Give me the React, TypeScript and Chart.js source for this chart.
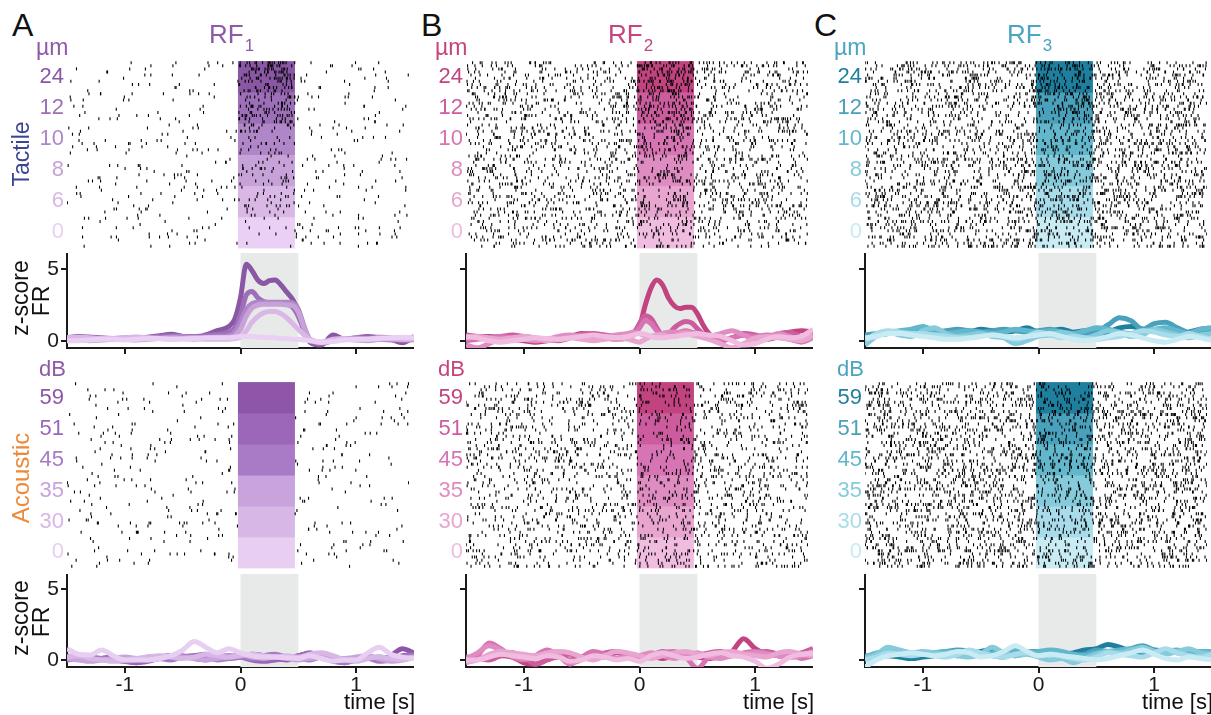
import React, { useEffect, useRef } from 'react';
import { Chart, registerables } from 'chart.js';

Chart.register(...registerables);

// ---------- data ----------
const TIME = [-1.5, -1.4, -1.3, -1.2, -1.1, -1.0, -0.9, -0.8, -0.7, -0.6, -0.5, -0.4, -0.3, -0.2, -0.1, 0, 0.1, 0.2, 0.3, 0.4, 0.5, 0.6, 0.7, 0.8, 0.9, 1.0, 1.1, 1.2, 1.3, 1.4, 1.5];
const TIME_FINE = [-1.5, -1.4, -1.3, -1.2, -1.1, -1.0, -0.9, -0.8, -0.7, -0.6, -0.5, -0.4, -0.3, -0.2, -0.1, -0.05, 0, 0.05, 0.1, 0.15, 0.2, 0.25, 0.3, 0.35, 0.4, 0.45, 0.5, 0.55, 0.6, 0.7, 0.8, 0.9, 1.0, 1.1, 1.2, 1.3, 1.4, 1.5];

const TACTILE_LEVELS = ['0', '6', '8', '10', '12', '24'];
const ACOUSTIC_LEVELS = ['0', '30', '35', '45', '51', '59'];
const X_TICKS = [-1, 0, 1];
const Y_TICKS = [0, 5];
const STIM_ON = 0;
const STIM_OFF = 0.5;
const TRIALS = 10;

// z-scored firing rate, one row per level (lowest level first)
const RF1_TACTILE_Z = [
  [0.0, 0.0, 0.05, 0.1, 0.1, 0.05, 0.1, 0.15, 0.15, 0.1, 0.1, 0.15, 0.2, 0.2, 0.2, 0.25, 0.3, 0.3, 0.3, 0.25, 0.25, 0.2, 0.2, 0.15, 0.15, 0.1, 0.1, 0.05, 0.0, -0.1, -0.05, 0.05, 0.1, 0.1, 0.15, 0.2, 0.25, 0.2],
  [0.2, 0.25, 0.2, 0.15, 0.15, 0.2, 0.25, 0.2, 0.15, 0.1, 0.15, 0.2, 0.1, 0.1, 0.1, 0.15, 0.25, 0.7, 1.3, 1.7, 1.95, 2.05, 2.05, 1.9, 1.6, 1.2, 0.8, 0.4, 0.1, -0.1, 0.1, 0.15, 0.1, 0.1, 0.2, 0.15, 0.1, 0.2],
  [0.1, 0.05, 0.0, 0.05, 0.1, 0.1, 0.05, 0.1, 0.15, 0.2, 0.15, 0.1, 0.15, 0.2, 0.25, 0.35, 0.8, 1.7, 2.3, 2.5, 2.55, 2.55, 2.55, 2.55, 2.5, 2.45, 2.0, 0.9, 0.1, -0.1, 0.0, 0.1, 0.05, 0.0, 0.1, 0.15, 0.1, 0.05],
  [0.15, 0.2, 0.15, 0.1, 0.15, 0.2, 0.25, 0.2, 0.2, 0.25, 0.3, 0.2, 0.25, 0.3, 0.35, 0.6, 1.3, 2.2, 2.6, 2.7, 2.7, 2.7, 2.7, 2.7, 2.7, 2.65, 2.2, 1.0, 0.1, -0.15, 0.05, 0.1, 0.2, 0.15, 0.1, 0.05, 0.1, 0.2],
  [0.2, 0.2, 0.25, 0.2, 0.15, 0.1, 0.15, 0.2, 0.3, 0.35, 0.3, 0.3, 0.35, 0.45, 0.6, 0.9, 1.8, 3.2, 3.45, 3.0, 2.75, 2.65, 2.6, 2.6, 2.55, 2.35, 1.7, 0.7, 0.0, -0.2, 0.0, 0.15, 0.1, 0.2, 0.25, 0.2, 0.0, 0.1],
  [0.2, 0.3, 0.25, 0.15, 0.1, 0.15, 0.2, 0.25, 0.35, 0.45, 0.3, 0.2, 0.4, 0.7, 1.0, 1.5, 3.0, 5.35, 4.9, 4.25, 4.0, 4.2, 4.25, 3.9, 3.4, 2.9, 2.1, 0.8, -0.1, -0.3, 0.4, 0.1, 0.2, 0.3, 0.2, 0.1, -0.15, 0.3],
];
const RF1_ACOUSTIC_Z = [
  [0.8, 0.4, 0.35, 0.7, 0.3, 0.0, 0.0, 0.0, 0.1, 0.3, 0.7, 1.3, 0.9, 0.5, 0.8, 0.5, 0.3, 0.2, 0.2, 0.15, 0.1, 0.3, 0.1, -0.1, 0.0, 0.0, 0.5, 0.9, 0.4, 0.2, 0.1],
  [0.2, 0.3, 0.1, 0.0, -0.1, 0.0, 0.1, 0.2, 0.3, 0.2, 0.1, 0.2, 0.4, 0.3, 0.2, 0.3, 0.4, 0.3, 0.2, 0.3, 0.2, 0.4, 0.5, 0.3, 0.0, -0.1, 0.1, 0.2, 0.1, 0.0, 0.2],
  [0.1, 0.0, -0.1, 0.0, 0.1, 0.2, 0.1, 0.0, 0.1, 0.3, 0.2, 0.1, 0.0, 0.1, 0.2, 0.4, 0.2, 0.1, 0.2, 0.1, 0.0, 0.1, 0.2, 0.1, 0.1, 0.2, 0.3, 0.1, -0.1, 0.0, 0.2],
  [0.0, 0.1, 0.2, 0.1, 0.0, -0.1, 0.0, 0.2, 0.1, 0.0, 0.2, 0.3, 0.2, 0.0, 0.1, 0.2, 0.1, 0.3, 0.4, 0.2, 0.1, 0.0, 0.2, 0.1, -0.2, 0.0, 0.1, -0.1, 0.0, 0.2, 0.3],
  [0.2, 0.1, 0.0, 0.1, 0.2, 0.0, -0.2, -0.1, 0.1, 0.2, 0.3, 0.1, 0.0, 0.2, 0.3, 0.2, 0.0, -0.1, 0.0, 0.1, 0.3, 0.5, 0.2, -0.1, -0.2, 0.0, 0.1, 0.2, 0.1, 0.3, 0.4],
  [0.3, 0.1, 0.0, 0.1, 0.2, -0.1, -0.2, 0.0, 0.2, 0.3, 0.2, 0.3, 0.4, 0.2, 0.1, 0.2, 0.4, 0.3, 0.1, 0.0, 0.3, 0.4, 0.2, 0.0, -0.1, 0.1, 0.3, 0.0, 0.3, 0.8, 0.5],
];
const RF2_TACTILE_Z = [
  [0.3, 0.2, 0.0, -0.1, 0.0, 0.1, 0.2, 0.15, 0.1, 0.2, 0.3, 0.4, 0.3, 0.2, 0.3, 0.4, 0.5, 0.45, 0.3, 0.2, 0.2, 0.25, 0.3, 0.35, 0.4, 0.45, 0.5, 0.45, 0.4, 0.3, 0.0, -0.3, -0.2, 0.1, 0.3, 0.2, 0.3, 0.8],
  [0.2, 0.3, 0.2, 0.1, 0.2, 0.3, 0.2, 0.0, 0.1, 0.2, 0.1, 0.0, 0.1, 0.2, 0.1, 0.0, -0.1, 0.1, 0.3, 0.4, 0.4, 0.3, 0.3, 0.4, 0.5, 0.4, 0.3, 0.2, 0.1, -0.2, -0.5, -0.2, 0.2, 0.3, 0.2, 0.1, 0.0, 0.4],
  [-0.3, -0.5, -0.2, 0.1, 0.2, 0.1, 0.0, 0.1, 0.3, 0.4, 0.3, 0.2, 0.3, 0.4, 0.5, 0.6, 0.5, 0.4, 0.3, 0.4, 0.5, 0.6, 0.6, 0.6, 0.6, 0.55, 0.5, 0.4, 0.3, 0.5, 0.7, 0.4, 0.1, 0.2, 0.5, 0.3, 0.1, 0.2],
  [0.0, 0.1, 0.2, 0.3, 0.2, 0.1, 0.0, 0.1, 0.2, 0.3, 0.4, 0.3, 0.2, 0.1, 0.2, 0.4, 0.9, 1.4, 1.2, 0.7, 0.35, 0.3, 0.45, 0.6, 0.7, 0.6, 0.5, 0.3, 0.2, 0.1, 0.2, 0.4, 0.3, 0.4, 0.3, 0.1, -0.1, 0.2],
  [0.4, 0.3, 0.2, 0.3, 0.4, 0.3, 0.2, 0.1, 0.0, 0.2, 0.4, 0.5, 0.4, 0.3, 0.2, 0.5, 1.2, 1.75, 1.55, 0.9, 0.35, 0.45, 0.9, 1.2, 1.35, 1.25, 0.85, 0.45, 0.2, 0.0, 0.2, 0.5, 0.4, 0.2, 0.5, 0.6, 0.3, 0.4],
  [0.2, 0.3, 0.3, 0.2, 0.1, 0.0, -0.1, 0.0, 0.1, 0.3, 0.5, 0.4, 0.2, 0.2, 0.3, 0.6, 1.0, 2.5, 3.7, 4.25, 3.9, 3.0, 2.45, 2.25, 2.35, 2.35, 1.9, 1.1, 0.5, 0.0, 0.2, 0.4, 0.3, 0.1, 0.3, 0.6, 0.7, 0.6],
];
const RF2_ACOUSTIC_Z = [
  [0.0, 0.0, 0.2, 0.4, 0.3, 0.2, 0.1, 0.3, 0.2, -0.1, 0.0, 0.3, 0.2, 0.0, 0.1, -0.1, 0.3, 0.5, 0.3, 0.1, 0.2, 0.4, 0.5, 0.3, 0.2, -0.1, -0.6, -0.3, 0.2, 0.4, 0.5],
  [-0.2, 0.0, 0.4, 0.6, 0.5, 0.4, 0.3, 0.5, 0.6, 0.5, 0.2, 0.0, 0.3, 0.6, 0.5, 0.3, 0.1, 0.3, 0.5, 0.6, 0.4, 0.3, 0.5, 0.6, 0.4, 0.3, 0.2, 0.5, 0.6, 0.4, 0.3],
  [0.1, 0.5, 1.0, 0.7, 0.3, 0.1, 0.2, 0.4, 0.3, -0.2, 0.0, 0.3, 0.2, 0.1, 0.2, 0.3, 0.5, 0.3, 0.1, 0.3, 0.5, 0.2, 0.1, 0.3, 0.4, 0.5, 0.4, 0.3, 0.2, 0.3, 0.6],
  [0.0, 0.3, 1.2, 0.8, 0.2, 0.0, 0.3, 0.7, 0.3, -0.3, 0.2, 0.6, 0.4, 0.1, 0.3, 0.0, 0.3, 0.5, 0.6, 0.2, -0.6, 0.2, 0.4, 0.3, 0.5, 0.6, 0.5, 0.3, 0.4, 0.1, 0.3],
  [0.2, 0.1, 0.0, 0.3, 0.5, 0.2, -0.3, 0.0, 0.3, 0.4, 0.2, 0.3, 0.5, 0.6, 0.3, 0.1, 0.3, 0.6, 0.4, 0.2, 0.3, 0.5, 0.6, 0.4, 0.3, 0.5, 0.6, 0.4, 0.3, 0.5, 0.8],
  [0.0, 0.1, 0.2, 0.3, 0.2, -0.2, -0.3, 0.0, 0.2, 0.0, 0.1, 0.3, 0.2, 0.5, 0.3, 0.2, 0.3, 0.1, 0.3, 0.5, 0.2, 0.1, 0.3, 0.6, 1.5, 0.8, 0.4, 0.3, 0.2, 0.3, 0.7],
];
const RF3_TACTILE_Z = [
  [0.2, 0.3, 0.5, 0.5, 0.4, 0.3, 0.2, 0.1, 0.1, 0.2, 0.3, 0.4, 0.3, 0.2, 0.3, 0.4, 0.5, 0.3, 0.1, 0.0, 0.1, 0.3, 0.5, 0.4, 0.2, 0.0, -0.1, 0.1, 0.3, 0.2, 0.0],
  [0.0, 0.5, 0.7, 0.6, 0.5, 0.5, 0.4, 0.3, 0.2, 0.2, 0.3, 0.4, 0.3, 0.1, 0.3, 0.6, 0.4, 0.2, 0.3, 0.2, 0.1, 0.2, 0.3, 0.5, 0.7, 0.6, 0.4, 0.3, 0.5, 0.3, 0.1],
  [-0.3, 0.3, 0.6, 0.4, 0.3, 0.7, 0.9, 0.5, 0.3, 0.4, 0.5, 0.3, 0.2, -0.2, 0.0, 0.3, 0.4, 0.6, 0.4, 0.2, 0.4, 0.7, 0.6, 0.3, 0.4, 0.8, 0.6, 0.4, 0.2, 0.4, 0.5],
  [0.2, 0.4, 0.6, 0.7, 0.8, 1.0, 0.7, 0.5, 0.6, 0.7, 0.6, 0.5, 0.6, 0.8, 0.7, 0.6, 0.7, 0.6, 0.5, 0.7, 0.9, 0.8, 0.6, 0.5, 0.7, 0.8, 0.9, 0.7, 0.5, 0.8, 0.9],
  [0.4, 0.5, 0.6, 0.5, 0.6, 0.7, 0.6, 0.7, 0.8, 0.7, 0.6, 0.7, 0.8, 0.7, 0.6, 0.7, 0.8, 0.6, 0.5, 0.4, 0.6, 1.1, 1.6, 1.4, 0.8, 1.2, 1.3, 0.9, 0.6, 0.7, 0.7],
  [0.3, 0.4, 0.5, 0.6, 0.5, 0.6, 0.7, 0.6, 0.5, 0.6, 0.8, 0.7, 0.6, 0.7, 0.9, 0.6, 0.7, 0.8, 0.6, 0.7, 0.5, 0.6, 0.9, 1.0, 0.8, 0.7, 0.6, 0.5, 0.6, 0.8, 0.9],
];
const RF3_ACOUSTIC_Z = [
  [-0.5, 0.0, 0.3, 0.4, 0.5, 0.4, 0.3, 0.4, 0.6, 0.5, 0.2, 0.3, 0.6, 1.0, 0.6, 0.3, 0.4, 0.3, 0.2, 0.1, 0.0, 0.1, 0.3, 0.5, 0.7, 0.4, 0.1, 0.0, 0.2, 0.1, 0.0],
  [0.0, 0.2, 0.5, 0.4, 0.3, 0.4, 0.3, 0.2, 0.4, 0.7, 0.5, 0.3, 0.2, 0.4, 0.5, 0.3, 0.4, 0.3, 0.1, 0.0, 0.2, 0.5, 0.4, 0.3, 0.2, 0.5, 0.8, 0.5, 0.3, 0.2, 0.4],
  [0.1, 0.4, 0.9, 0.7, 0.5, 0.6, 0.5, 0.4, 0.3, 0.2, 0.4, 0.9, 0.5, 0.3, 0.4, 0.2, 0.0, 0.1, -0.2, 0.1, 0.4, 0.6, 0.5, 0.7, 0.9, 0.6, 0.4, 0.6, 0.8, 0.5, 0.4],
  [0.2, 0.5, 0.6, 0.4, 0.3, 0.4, 0.5, 0.6, 0.5, 0.4, 0.3, 0.5, 0.6, 0.7, 0.5, 0.6, 0.7, 0.6, 0.4, 0.3, 0.5, 0.6, 0.7, 0.8, 0.6, 0.5, 0.6, 0.7, 0.5, 0.6, 0.6],
  [0.3, 0.2, 0.4, 0.6, 0.5, 0.4, 0.5, 0.6, 0.7, 0.6, 0.4, 0.3, 0.2, 0.5, 0.6, 0.5, 0.4, 0.5, 0.3, 0.4, 0.7, 0.6, 0.5, 0.8, 1.0, 0.7, 0.5, 0.6, 0.7, 0.5, 0.4],
  [0.1, 0.2, 0.3, 0.2, 0.1, 0.2, 0.3, 0.4, 0.3, 0.4, 0.6, 0.7, 0.4, 0.3, 0.5, 0.6, 0.5, 0.4, 0.5, 0.7, 0.8, 1.1, 0.9, 0.6, 0.5, 0.7, 0.6, 0.5, 0.4, 0.6, 0.5],
];

// spike rates (Hz) per level, outside / during stimulus (raster texture)
const RF1_TACTILE_BASE_HZ = [3, 3, 3, 3, 3, 3];
const RF1_TACTILE_STIM_HZ = [3, 6, 9, 14, 18, 28];
const RF1_ACOUSTIC_BASE_HZ = [2.5, 2.5, 2.5, 2.5, 2.5, 2.5];
const RF1_ACOUSTIC_STIM_HZ = [0, 0, 0, 0, 0, 0];
const RF2_TACTILE_BASE_HZ = [13, 13, 13, 13, 13, 13];
const RF2_TACTILE_STIM_HZ = [13, 14, 16, 18, 24, 34];
const RF2_ACOUSTIC_BASE_HZ = [11, 11, 11, 11, 11, 11];
const RF2_ACOUSTIC_STIM_HZ = [11, 11, 11, 11, 12, 13];
const RF3_TACTILE_BASE_HZ = [18, 18, 18, 18, 18, 18];
const RF3_TACTILE_STIM_HZ = [18, 18, 18, 18, 19, 19];
const RF3_ACOUSTIC_BASE_HZ = [18, 18, 18, 18, 18, 18];
const RF3_ACOUSTIC_STIM_HZ = [18, 18, 18, 18, 18, 19];

// ---------- styles ----------
const FONT = '"Liberation Sans", Arial, Helvetica, sans-serif';
const RF1_TACTILE_COLORS = ['#ead0f4', '#d9b8e6', '#c7a2d9', '#af87c9', '#9d6fb8', '#8a57a5'];
const RF1_ACOUSTIC_COLORS = ['#e8cff2', '#d6b7e6', '#c8a3dc', '#a97ac6', '#9c66b9', '#8e55a9'];
const RF2_COLORS = ['#f0bde0', '#e8a5d0', '#df8cc2', '#d774b3', '#cd5c9f', '#c1437f'];
const RF3_COLORS = ['#c8ebf4', '#a8dcea', '#86cbdc', '#63b7cd', '#4aa1bb', '#1f7f9e'];
const TITLE_COLORS = ['#8f5aa9', '#c5467f', '#4ba4c1'];
const GRAY = '#e8eaea';
const AXIS_COLOR = '#1a1a1a';

const COLS = [67, 466, 865];
const PLOT_W = 347;
const AXIS_W = 60;
const RT_TOP = 56, RT_H = 197;
const ZT_TOP = 253, ZT_H = 95, ZT_XH = 8, ZT_MIN = -0.51, ZT_MAX = 6.14;
const RA_TOP = 377, RA_H = 196;
const ZA_TOP = 574, ZA_H = 93, ZA_XH = 40, ZA_MIN = -0.5, ZA_MAX = 6.08;

// ---------- helpers ----------
function spikeTexture(base: number[], stim: number[], seed: number) {
  let s = seed >>> 0;
  const next = () => {
    s = (s + 0x6d2b79f5) >>> 0;
    let t = s;
    t = Math.imul(t ^ (t >>> 15), t | 1);
    t ^= t + Math.imul(t ^ (t >>> 7), t | 61);
    return ((t ^ (t >>> 14)) >>> 0) / 4294967296;
  };
  const pts: { x: number; y: number }[] = [];
  const dt = 0.004;
  for (let lv = 0; lv < base.length; lv++) {
    for (let tr = 0; tr < TRIALS; tr++) {
      const y = lv * TRIALS + tr + 0.5;
      for (let k = 0; k < 750; k++) {
        const t = -1.5 + k * dt;
        const r = t >= STIM_ON && t < STIM_OFF ? stim[lv] : base[lv];
        if (next() < r * dt) pts.push({ x: t + next() * dt, y });
      }
    }
  }
  return pts;
}

const bandsPlugin = (colors: string[]) => ({
  id: 'levelBands',
  beforeDatasetsDraw(chart: any) {
    const { ctx, scales } = chart;
    const x0 = scales.x.getPixelForValue(STIM_ON);
    const x1 = scales.x.getPixelForValue(STIM_OFF);
    ctx.save();
    colors.forEach((c, i) => {
      const yTop = scales.y.getPixelForValue((i + 1) * TRIALS);
      const yBot = scales.y.getPixelForValue(i * TRIALS);
      ctx.fillStyle = c;
      ctx.fillRect(x0, yTop, x1 - x0, yBot - yTop + 0.5);
    });
    ctx.restore();
  },
});

const stimPlugin = {
  id: 'stimGray',
  beforeDatasetsDraw(chart: any) {
    const { ctx, scales, chartArea } = chart;
    const x0 = scales.x.getPixelForValue(STIM_ON);
    const x1 = scales.x.getPixelForValue(STIM_OFF);
    ctx.save();
    ctx.fillStyle = GRAY;
    ctx.fillRect(x0, chartArea.top, x1 - x0, chartArea.bottom - chartArea.top);
    ctx.restore();
  },
};

const axisGrid = { display: true, drawOnChartArea: false, drawTicks: true, tickLength: 6, color: AXIS_COLOR, lineWidth: 2 };
const axisBorder = { display: true, color: AXIS_COLOR, width: 2 };

function rasterConfig(spikes: any[], levels: string[], colors: string[], labelColors: string[]) {
  return {
    type: 'scatter',
    data: {
      datasets: [{
        data: spikes,
        showLine: false,
        pointStyle: 'line',
        pointRotation: 90,
        pointRadius: 1.5,
        pointBorderWidth: 1.1,
        pointBorderColor: '#000',
        pointBackgroundColor: '#000',
      }],
    },
    options: {
      animation: false,
      responsive: false,
      devicePixelRatio: 1,
      events: [],
      layout: { padding: 0 },
      plugins: { legend: { display: false }, tooltip: { enabled: false } },
      scales: {
        x: { type: 'linear', min: -1.5, max: 1.5, display: false },
        y: {
          type: 'linear', min: 0, max: levels.length * TRIALS,
          afterBuildTicks: (sc: any) => { sc.ticks = levels.map((_, i) => ({ value: i * TRIALS + TRIALS / 2 })); },
          afterFit: (sc: any) => { sc.width = AXIS_W; sc.paddingTop = 0; sc.paddingBottom = 0; },
          grid: { display: false, drawTicks: false },
          border: { display: false },
          ticks: {
            autoSkip: false,
            padding: 3,
            color: (c: any) => labelColors[c.index],
            font: { family: FONT, size: 22 },
            callback: (_v: any, i: number) => levels[i],
          },
        },
      },
    },
    plugins: [bandsPlugin(colors)],
  };
}

function zConfig(times: number[], series: number[][], colors: string[], yMin: number, yMax: number, xLabels: boolean, yLabels: boolean, xh: number) {
  return {
    type: 'line',
    data: {
      datasets: series.map((vals, i) => ({
        data: vals.map((v, k) => ({ x: times[k], y: v })),
        borderColor: colors[i],
        borderWidth: 5,
        pointRadius: 0,
        cubicInterpolationMode: 'monotone',
        fill: false,
        order: i,
      })),
    },
    options: {
      animation: false,
      responsive: false,
      devicePixelRatio: 1,
      events: [],
      layout: { padding: 0 },
      plugins: { legend: { display: false }, tooltip: { enabled: false } },
      scales: {
        x: {
          type: 'linear', min: -1.5, max: 1.5,
          afterBuildTicks: (sc: any) => { sc.ticks = X_TICKS.map((v) => ({ value: v })); },
          afterFit: (sc: any) => { sc.height = xh; sc.paddingLeft = 0; sc.paddingRight = 0; },
          grid: axisGrid,
          border: axisBorder,
          ticks: { display: xLabels, autoSkip: false, maxRotation: 0, padding: 0, color: '#1a1a1a', font: { family: FONT, size: 21 }, callback: (v: any) => String(v) },
        },
        y: {
          type: 'linear', min: yMin, max: yMax,
          afterBuildTicks: (sc: any) => { sc.ticks = Y_TICKS.map((v) => ({ value: v })); },
          afterFit: (sc: any) => { sc.width = AXIS_W; sc.paddingTop = 0; sc.paddingBottom = 0; },
          grid: axisGrid,
          border: axisBorder,
          ticks: { display: yLabels, padding: 2, color: '#1a1a1a', font: { family: FONT, size: 21 }, callback: (v: any) => String(v) },
        },
      },
    },
    plugins: [stimPlugin],
  };
}

function ChartBox({ left, top, width, height, make }: { left: number; top: number; width: number; height: number; make: () => any }) {
  const ref = useRef<HTMLCanvasElement | null>(null);
  useEffect(() => {
    if (!ref.current) return;
    const chart = new Chart(ref.current, make());
    return () => chart.destroy();
  }, []);
  return <canvas ref={ref} width={width} height={height} style={{ position: 'absolute', left, top, width, height }} />;
}

function Txt({ children, left, baseline, size, color, right }: any) {
  const style: any = {
    position: 'absolute', top: baseline - 0.8465 * size, fontSize: size, lineHeight: 1,
    color, fontFamily: FONT, whiteSpace: 'nowrap',
  };
  if (right !== undefined) style.right = right; else style.left = left;
  return <div style={style}>{children}</div>;
}

function VTxt({ children, cx, cy, size, color }: any) {
  return (
    <div style={{
      position: 'absolute', left: cx, top: cy, fontSize: size, lineHeight: 1, color, fontFamily: FONT,
      whiteSpace: 'nowrap', transform: 'translate(-50%, -50%) rotate(-90deg)',
    }}>{children}</div>
  );
}

const COLUMNS = [
  { letter: 'A', sub: '1', tz: RF1_TACTILE_Z, az: RF1_ACOUSTIC_Z, tc: RF1_TACTILE_COLORS, ac: RF1_ACOUSTIC_COLORS, tb: RF1_TACTILE_BASE_HZ, ts: RF1_TACTILE_STIM_HZ, ab: RF1_ACOUSTIC_BASE_HZ, as: RF1_ACOUSTIC_STIM_HZ, letterX: 12 },
  { letter: 'B', sub: '2', tz: RF2_TACTILE_Z, az: RF2_ACOUSTIC_Z, tc: RF2_COLORS, ac: RF2_COLORS, tb: RF2_TACTILE_BASE_HZ, ts: RF2_TACTILE_STIM_HZ, ab: RF2_ACOUSTIC_BASE_HZ, as: RF2_ACOUSTIC_STIM_HZ, letterX: 421 },
  { letter: 'C', sub: '3', tz: RF3_TACTILE_Z, az: RF3_ACOUSTIC_Z, tc: RF3_COLORS, ac: RF3_COLORS, tb: RF3_TACTILE_BASE_HZ, ts: RF3_TACTILE_STIM_HZ, ab: RF3_ACOUSTIC_BASE_HZ, as: RF3_ACOUSTIC_STIM_HZ, letterX: 814 },
];

export default function App() {
  return (
    <div style={{ position: 'fixed', left: 0, top: 0, width: 1211, height: 715, overflow: 'hidden', background: '#fff' }}>
      {COLUMNS.map((c, ci) => {
        const x0 = COLS[ci] - AXIS_W;
        const w = AXIS_W + PLOT_W;
        const first = ci === 0;
        const tTimes = ci === 2 ? TIME : TIME_FINE;
        return (
          <React.Fragment key={c.letter}>
            <ChartBox left={x0} top={RT_TOP} width={w} height={RT_H}
              make={() => rasterConfig(spikeTexture(c.tb, c.ts, 101 + ci * 7), TACTILE_LEVELS, c.tc, c.tc)} />
            <ChartBox left={x0} top={ZT_TOP} width={w} height={ZT_H + ZT_XH}
              make={() => zConfig(tTimes, c.tz, c.tc, ZT_MIN, ZT_MAX, false, first, ZT_XH)} />
            <ChartBox left={x0} top={RA_TOP} width={w} height={RA_H}
              make={() => rasterConfig(spikeTexture(c.ab, c.as, 503 + ci * 13), ACOUSTIC_LEVELS, c.ac, c.ac)} />
            <ChartBox left={x0} top={ZA_TOP} width={w} height={ZA_H + ZA_XH}
              make={() => zConfig(TIME, c.az, c.ac, ZA_MIN, ZA_MAX, true, first, ZA_XH)} />
            <Txt left={c.letterX} baseline={36} size={32} color="#111">{c.letter}</Txt>
            <div style={{ position: 'absolute', left: COLS[ci] + 142, top: 43 - 0.8465 * 26, fontFamily: FONT, lineHeight: 1, color: TITLE_COLORS[ci], whiteSpace: 'nowrap' }}>
              <span style={{ fontSize: 26 }}>RF</span>
              <span style={{ fontSize: 17, position: 'relative', top: 8, marginLeft: 1 }}>{c.sub}</span>
            </div>
            <Txt left={COLS[ci] - 31} baseline={55} size={23} color={TITLE_COLORS[ci]}>µm</Txt>
            <Txt left={COLS[ci] - 28} baseline={377} size={22} color={TITLE_COLORS[ci]}>dB</Txt>
            <Txt right={1211 - (COLS[ci] + PLOT_W + 1)} baseline={710} size={22} color="#111">time [s]</Txt>
          </React.Fragment>
        );
      })}
      <VTxt cx={21} cy={154} size={23} color="#3a4690">Tactile</VTxt>
      <VTxt cx={21} cy={478} size={24} color="#ec8a3a">Acoustic</VTxt>
      <VTxt cx={20} cy={298} size={23} color="#111">z-score</VTxt>
      <VTxt cx={41} cy={301} size={23} color="#111">FR</VTxt>
      <VTxt cx={20} cy={618} size={23} color="#111">z-score</VTxt>
      <VTxt cx={41} cy={622} size={23} color="#111">FR</VTxt>
    </div>
  );
}
